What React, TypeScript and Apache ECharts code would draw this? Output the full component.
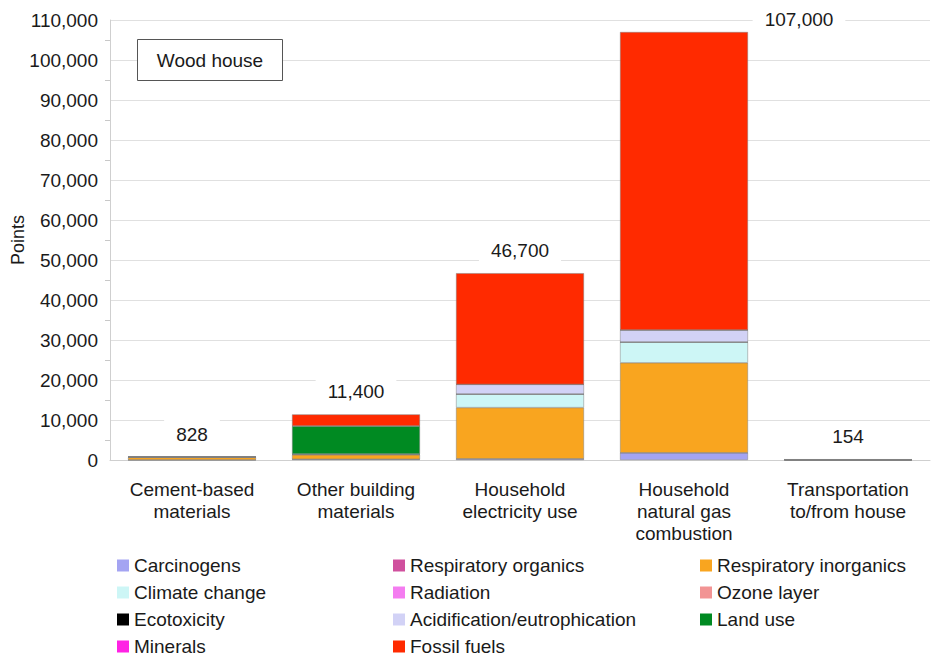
import React, { useEffect, useRef } from "react";
import * as echarts from "echarts";

const CATEGORIES = [
  "Cement-based\nmaterials",
  "Other building\nmaterials",
  "Household\nelectricity use",
  "Household\nnatural gas\ncombustion",
  "Transportation\nto/from house",
];
const TOTALS = [828, 11400, 46700, 107000, 154];

const SERIES_NAMES = [
  "Carcinogens",
  "Respiratory organics",
  "Respiratory inorganics",
  "Climate change",
  "Radiation",
  "Ozone layer",
  "Ecotoxicity",
  "Acidification/eutrophication",
  "Land use",
  "Minerals",
  "Fossil fuels",
];
const COLORS = [
  "#a4a4f2",
  "#d0509e",
  "#f9a51f",
  "#cdf6f6",
  "#f47cf0",
  "#f29494",
  "#000000",
  "#d2d2f6",
  "#008a22",
  "#ff22e4",
  "#ff2a00",
];

const CARCINOGENS = [20, 200, 300, 1800, 10];
const RESP_ORGANICS = [0, 0, 0, 0, 0];
const RESP_INORGANICS = [650, 1100, 12800, 22500, 60];
const CLIMATE_CHANGE = [60, 100, 3400, 5200, 30];
const RADIATION = [0, 0, 0, 0, 0];
const OZONE_LAYER = [0, 0, 0, 0, 0];
const ECOTOXICITY = [0, 0, 0, 0, 0];
const ACIDIFICATION = [30, 100, 2400, 3000, 10];
const LAND_USE = [20, 7000, 0, 0, 0];
const MINERALS = [0, 0, 0, 0, 0];
const FOSSIL_FUELS = [48, 2900, 27800, 74500, 44];

const SERIES_DATA = [
  CARCINOGENS,
  RESP_ORGANICS,
  RESP_INORGANICS,
  CLIMATE_CHANGE,
  RADIATION,
  OZONE_LAYER,
  ECOTOXICITY,
  ACIDIFICATION,
  LAND_USE,
  MINERALS,
  FOSSIL_FUELS,
];

// legend grid: 3 columns, 4 rows, row-major
const LEGEND_COLUMNS = [117, 393, 700];
const LEGEND_ROWS = [556, 583, 610, 637];

const Y_MAX = 110000;

const FONT = "'Liberation Sans', Arial, Helvetica, sans-serif";
const FS = 19;

export default function App() {
  const ref = useRef<HTMLDivElement>(null);
  useEffect(() => {
    if (!ref.current) return;
    const chart = echarts.init(ref.current, null, { renderer: "svg" });
    const last = SERIES_NAMES.length - 1;
    const series = SERIES_NAMES.map((name, i) => ({
      name,
      type: "bar",
      stack: "total",
      barWidth: "78%",
      itemStyle: { color: COLORS[i], borderColor: "#808080", borderWidth: 0.5 },
      data: SERIES_DATA[i].map((v, j) =>
        i === last && j === 3 ? { value: v, label: { offset: [115, 10] } } : v
      ),
      label:
        i === last
          ? {
              show: true,
              position: "top",
              distance: 7,
              color: "#1a1a1a",
              fontSize: FS,
              fontFamily: FONT,
              backgroundColor: "#fff",
              padding: [6, 12],
              formatter: (p: any) => TOTALS[p.dataIndex].toLocaleString("en-US"),
            }
          : { show: false },
      emphasis: { disabled: true },
    }));

    const legends = SERIES_NAMES.map((name, i) => ({
      orient: "horizontal",
      left: LEGEND_COLUMNS[i % 3],
      top: LEGEND_ROWS[Math.floor(i / 3)],
      itemWidth: 12,
      itemHeight: 12,
      padding: 0,
      icon: "rect",
      selectedMode: false,
      itemStyle: { borderWidth: 0 },
      textStyle: { fontSize: FS, color: "#1a1a1a", fontFamily: FONT },
      data: [name],
    }));

    chart.setOption({
      animation: false,
      textStyle: { fontFamily: FONT },
      grid: {
        left: 110,
        right: 1,
        top: 20,
        bottom: 198,
        containLabel: false,
        outerBoundsMode: "none",
      },
      legend: legends,
      xAxis: {
        type: "category",
        data: CATEGORIES,
        axisLine: { show: true, lineStyle: { color: "#cfcfcf" } },
        axisTick: { show: false },
        axisLabel: {
          fontSize: FS,
          color: "#1a1a1a",
          lineHeight: 22,
          margin: 18,
          fontFamily: FONT,
          interval: 0,
        },
      },
      yAxis: {
        type: "value",
        min: 0,
        max: Y_MAX,
        interval: 10000,
        name: "Points",
        nameLocation: "middle",
        nameGap: 83,
        nameMoveOverlap: false,
        nameTextStyle: { fontSize: 18, color: "#1a1a1a", fontFamily: FONT },
        axisLine: { show: true, lineStyle: { color: "#cfcfcf" } },
        axisTick: { show: false },
        minorTick: { show: true, splitNumber: 2, length: 5, lineStyle: { color: "#c8c8c8" } },
        splitLine: { show: true, lineStyle: { color: "#e0e0e0" } },
        axisLabel: {
          fontSize: FS,
          color: "#1a1a1a",
          margin: 12,
          fontFamily: FONT,
          formatter: (v: number) => v.toLocaleString("en-US"),
        },
      },
      graphic: [
        {
          type: "group",
          left: 137,
          top: 39,
          z: 100,
          children: [
            {
              type: "rect",
              z: 100,
              shape: { x: 0, y: 0, width: 145, height: 41 },
              style: { fill: "#ffffff", stroke: "#555", lineWidth: 1 },
            },
            {
              type: "text",
              z: 101,
              x: 72.5,
              y: 20.5,
              style: {
                text: "Wood house",
                fontSize: FS,
                fontFamily: FONT,
                fill: "#1a1a1a",
                align: "center",
                verticalAlign: "middle",
              },
            },
          ],
        },
      ],
      series,
    });
    return () => chart.dispose();
  }, []);
  return (
    <div
      ref={ref}
      style={{ position: "fixed", left: 0, top: 0, width: 931, height: 658, background: "#fff" }}
    />
  );
}
